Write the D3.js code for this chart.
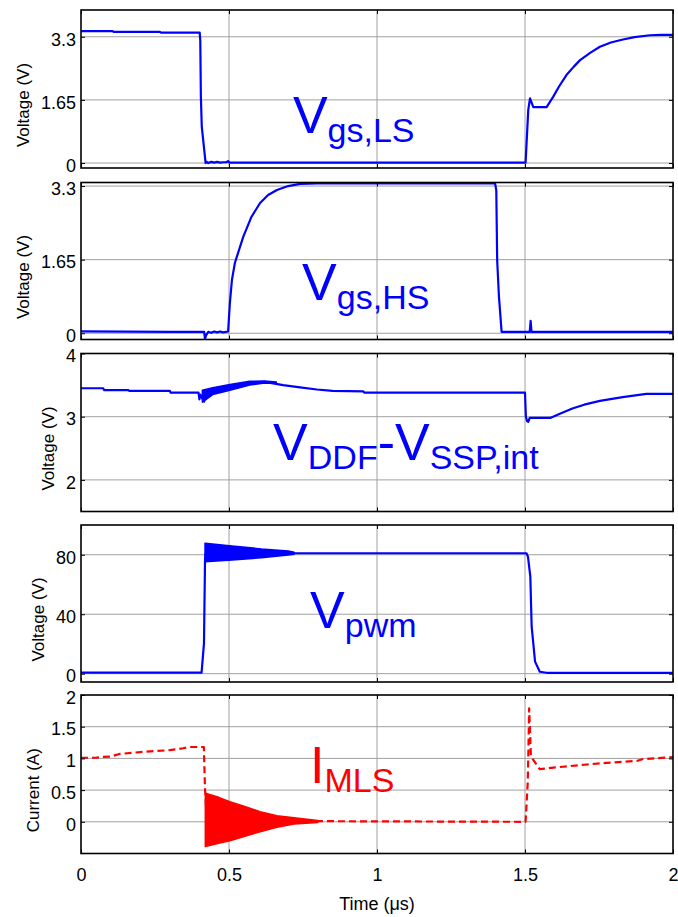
<!DOCTYPE html>
<html>
<head>
<meta charset="utf-8">
<script src="https://cdn.jsdelivr.net/npm/d3@7"></script>
<style>
  body { margin: 0; background: #fff; }
  text { font-family: Arial, "Liberation Sans", Helvetica, sans-serif; }
</style>
</head>
<body>
<svg id="chart" width="678" height="917"></svg>
<script>
// ---- Time axis (µs) ----
const timeDomain = [0, 2];
const timeTicks = [0, 0.5, 1, 1.5, 2];
const timeTickLabels = ["0", "0.5", "1", "1.5", "2"];

// ---- Low-side gate voltage Vgs,LS [t (µs), V] ----
const vgsLs = [
  [0, 3.45], [0.105, 3.45], [0.11, 3.43], [0.265, 3.43], [0.27, 3.41], [0.401, 3.41],
  [0.403, 3.2], [0.405, 1.73], [0.408, 0.95], [0.421, 0.0], [0.425, 0.03], [0.43, 0.0],
  [0.44, 0.03], [0.45, 0.01], [0.46, 0.03], [0.47, 0.01], [0.48, 0.02], [0.49, 0.02],
  [0.497, 0.05], [0.502, 0.01], [0.6, 0.01], [1.502, 0.01], [1.511, 1.39], [1.517, 1.69],
  [1.528, 1.46], [1.573, 1.46], [1.595, 1.73], [1.615, 2.0], [1.64, 2.3], [1.665, 2.52],
  [1.686, 2.69], [1.72, 2.88], [1.753, 3.04], [1.79, 3.15], [1.831, 3.23], [1.87, 3.29],
  [1.922, 3.34], [1.96, 3.35], [2.0, 3.35]
];
const vgsLsDomain = [-0.13, 4.0];
const vgsLsTicks = [0, 1.65, 3.3];
const vgsLsTickLabels = ["0", "1.65", "3.3"];

// ---- High-side gate voltage Vgs,HS ----
const vgsHs = [
  [0, 0.04], [0.3, 0.03], [0.416, 0.03], [0.419, -0.13], [0.423, -0.04], [0.43, 0.03],
  [0.44, 0.01], [0.45, 0.04], [0.46, 0.02], [0.47, 0.04], [0.48, 0.02], [0.497, 0.04],
  [0.503, 0.68], [0.51, 1.2], [0.52, 1.58], [0.548, 2.16], [0.575, 2.6], [0.605, 2.92],
  [0.632, 3.1], [0.662, 3.21], [0.7, 3.3], [0.74, 3.35], [0.8, 3.36], [1.399, 3.36],
  [1.403, 3.2], [1.406, 1.64], [1.412, 0.82], [1.421, 0.03], [1.516, 0.03], [1.519, 0.28],
  [1.522, 0.03], [2.0, 0.03]
];
const vgsHsDomain = [-0.14, 3.38];
const vgsHsTicks = [0, 1.65, 3.3];
const vgsHsTickLabels = ["0", "1.65", "3.3"];

// ---- Driver supply VDDF - VSSP,int ----
const vSupply = [
  [0, 3.45], [0.075, 3.45], [0.078, 3.42], [0.16, 3.42], [0.163, 3.41], [0.3, 3.41],
  [0.303, 3.38], [0.397, 3.38], [0.4, 3.275], [0.403, 3.35], [0.408, 3.3], [0.416, 3.24],
  [0.42, 3.33], [0.445, 3.41], [0.503, 3.465], [0.57, 3.53], [0.62, 3.55], [0.683, 3.5],
  [0.74, 3.465], [0.797, 3.43], [0.85, 3.41], [0.954, 3.4], [0.957, 3.38], [1.5, 3.38],
  [1.503, 3.0], [1.507, 2.93], [1.511, 2.92], [1.516, 2.98], [1.585, 2.98], [1.62, 3.05],
  [1.66, 3.13], [1.7, 3.19], [1.753, 3.25], [1.83, 3.31], [1.91, 3.36], [2.0, 3.36]
];
// ringing envelope while the switch node settles [t, high, low]
const vSupplyRinging = [
  [0.41, 3.42, 3.23], [0.445, 3.46, 3.35], [0.503, 3.51, 3.42], [0.57, 3.56, 3.5],
  [0.62, 3.565, 3.535], [0.66, 3.55, 3.53]
];
const vSupplyDomain = [1.5, 4];
const vSupplyTicks = [2, 3, 4];
const vSupplyTickLabels = ["2", "3", "4"];

// ---- Switch node voltage Vpwm ----
const vPwm = [
  [0, 0.65], [0.4074, 0.65], [0.4155, 20.6], [0.419, 76.5], [0.421, 81], [0.72, 81],
  [1.505, 81], [1.51, 78.7], [1.518, 65.2], [1.5225, 31.6], [1.534, 8.1], [1.55, 1.3],
  [1.573, 0.6], [2.0, 0.6]
];
const vPwmRinging = [
  [0.419, 87.7, 75.3], [0.51, 85.9, 76.5], [0.61, 83.9, 78.0], [0.7, 82.5, 79.8],
  [0.72, 81.6, 80.4]
];
const vPwmDomain = [-5.6, 100];
const vPwmTicks = [0, 40, 80];
const vPwmTickLabels = ["0", "40", "80"];

// ---- Low-side switch current IMLS (A) ----
const iMls = [
  [0, 1.01], [0.05, 1.01], [0.065, 1.02], [0.1, 1.03], [0.13, 1.07], [0.2, 1.1],
  [0.3, 1.13], [0.345, 1.16], [0.368, 1.18], [0.415, 1.18], [0.419, 0.5], [0.421, 0.4],
  [0.424, 0.0], [0.8, 0.01], [1.502, 0.0], [1.509, 0.6], [1.511, 1.0], [1.514, 1.79],
  [1.52, 1.03], [1.55, 0.83], [1.607, 0.86], [1.7, 0.9], [1.776, 0.93], [1.877, 0.96],
  [1.9, 0.99], [2.0, 1.02]
];
const iMlsRinging = [
  [0.42, 0.45, -0.39], [0.465, 0.386, -0.34], [0.503, 0.317, -0.3], [0.548, 0.25, -0.235],
  [0.605, 0.16, -0.156], [0.662, 0.096, -0.087], [0.72, 0.065, -0.035], [0.8, 0.02, -0.01]
];
const iMlsDomain = [-0.5, 2];
const iMlsTicks = [0, 0.5, 1, 1.5, 2];
const iMlsTickLabels = ["0", "0.5", "1", "1.5", "2"];

// ---- Panel definitions ----
const BLUE = "#0000ff", RED = "#ff0000";
const panels = [
  { data: vgsLs, band: null, domain: vgsLsDomain, ticks: vgsLsTicks, labels: vgsLsTickLabels,
    yLabel: "Voltage (V)", color: BLUE, dashed: false, top: 10, height: 158,
    title: [["V", 0], ["gs,LS", 1]], titleAt: [0.716, 0.78] },
  { data: vgsHs, band: null, domain: vgsHsDomain, ticks: vgsHsTicks, labels: vgsHsTickLabels,
    yLabel: "Voltage (V)", color: BLUE, dashed: false, top: 182.5, height: 157,
    title: [["V", 0], ["gs,HS", 1]], titleAt: [0.747, 0.745] },
  { data: vSupply, band: vSupplyRinging, domain: vSupplyDomain, ticks: vSupplyTicks, labels: vSupplyTickLabels,
    yLabel: "Voltage (V)", color: BLUE, dashed: false, top: 353.5, height: 158,
    title: [["V", 0], ["DDF", 1], ["-V", 0], ["SSP,int", 1]], titleAt: [0.649, 2.31] },
  { data: vPwm, band: vPwmRinging, domain: vPwmDomain, ticks: vPwmTicks, labels: vPwmTickLabels,
    yLabel: "Voltage (V)", color: BLUE, dashed: false, top: 525, height: 157,
    title: [["V", 0], ["pwm", 1]], titleAt: [0.774, 30.7] },
  { data: iMls, band: iMlsRinging, domain: iMlsDomain, ticks: iMlsTicks, labels: iMlsTickLabels,
    yLabel: "Current (A)", color: RED, dashed: true, top: 695, height: 158.5,
    title: [["I", 0], ["MLS", 1]], titleAt: [0.774, 0.61] }
];

const svg = d3.select("#chart");
const left = 81, right = 673;
const x = d3.scaleLinear().domain(timeDomain).range([left, right]);
const defs = svg.append("defs");

panels.forEach((p, idx) => {
  const bottom = p.top + p.height;
  const y = d3.scaleLinear().domain(p.domain).range([bottom, p.top]);
  const g = svg.append("g");
  const clipId = "clip" + idx;
  defs.append("clipPath").attr("id", clipId)
    .append("rect").attr("x", left).attr("y", p.top).attr("width", right - left).attr("height", p.height);

  // grid
  const grid = g.append("g").attr("stroke", "#a0a0a0").attr("stroke-width", 1);
  grid.selectAll("line.h").data(p.ticks.filter(v => v > p.domain[0] && v < p.domain[1]))
    .join("line").attr("class", "h")
    .attr("x1", left).attr("x2", right).attr("y1", d => y(d)).attr("y2", d => y(d));
  grid.selectAll("line.v").data(timeTicks.filter(t => t > timeDomain[0] && t < timeDomain[1]))
    .join("line").attr("class", "v")
    .attr("y1", p.top).attr("y2", bottom).attr("x1", d => x(d)).attr("x2", d => x(d));

  // ringing band
  const plot = g.append("g").attr("clip-path", `url(#${clipId})`);
  if (p.band) {
    const area = d3.area().x(d => x(d[0])).y0(d => y(d[2])).y1(d => y(d[1]));
    plot.append("path").datum(p.band).attr("d", area).attr("fill", p.color)
      .attr("stroke", p.color).attr("stroke-width", 1.5).attr("stroke-linejoin", "round");
  }
  // waveform
  const line = d3.line().x(d => x(d[0])).y(d => y(d[1]));
  plot.append("path").datum(p.data).attr("d", line)
    .attr("fill", "none").attr("stroke", p.color).attr("stroke-width", 2.2)
    .attr("stroke-linejoin", "round")
    .attr("stroke-dasharray", p.dashed ? "7,4" : null);

  // axes with inward ticks
  const yAxis = d3.axisLeft(y).tickValues(p.ticks)
    .tickFormat((d, i) => p.labels[i]).tickSize(-4).tickPadding(5);
  const ay = g.append("g").attr("transform", `translate(${left},0)`).call(yAxis);
  ay.select(".domain").remove();
  ay.selectAll("text").attr("font-size", 18).attr("dy", "0.46em").attr("fill", "#000")
    .style("font-family", "Arial, 'Liberation Sans', sans-serif");
  ay.selectAll("line").attr("stroke", "#000");

  const yAxisR = d3.axisRight(y).tickValues(p.ticks).tickSize(-4).tickFormat("");
  const ayr = g.append("g").attr("transform", `translate(${right},0)`).call(yAxisR);
  ayr.select(".domain").remove();
  ayr.selectAll("line").attr("stroke", "#000");

  const xTop = d3.axisTop(x).tickValues(timeTicks).tickSize(-4).tickFormat("");
  const axt = g.append("g").attr("transform", `translate(0,${p.top})`).call(xTop);
  axt.select(".domain").remove();
  axt.selectAll("line").attr("stroke", "#000");

  const last = idx === panels.length - 1;
  const xBot = d3.axisBottom(x).tickValues(timeTicks).tickSize(-4).tickPadding(15)
    .tickFormat((d, i) => last ? timeTickLabels[i] : "");
  const axb = g.append("g").attr("transform", `translate(0,${bottom})`).call(xBot);
  axb.select(".domain").remove();
  axb.selectAll("line").attr("stroke", "#000");
  axb.selectAll("text").attr("font-size", 18).attr("fill", "#000")
    .style("font-family", "Arial, 'Liberation Sans', sans-serif");

  // frame
  g.append("rect").attr("x", left).attr("y", p.top).attr("width", right - left).attr("height", p.height)
    .attr("fill", "none").attr("stroke", "#000").attr("stroke-width", 1.6);

  // y-axis label, placed clear of the widest tick label
  let maxW = 0;
  ay.selectAll("text").each(function () { maxW = Math.max(maxW, this.getComputedTextLength()); });
  const lx = left - 5 - maxW - 12;
  const ly = p.top + p.height / 2 + 16;
  g.append("text").attr("transform", `translate(${lx},${ly}) rotate(-90)`)
    .attr("text-anchor", "middle").attr("font-size", 17).attr("fill", "#000").text(p.yLabel);

  // signal name
  const t = g.append("text").attr("x", x(p.titleAt[0])).attr("y", y(p.titleAt[1]))
    .attr("fill", p.color);
  let sub = 0;
  p.title.forEach(([s, isSub]) => {
    const dy = isSub ? (sub ? 0 : 9) : (sub ? -9 : 0);
    sub = isSub;
    t.append("tspan").attr("font-size", isSub ? 34 : 52).attr("dy", dy).text(s);
  });

  if (last) {
    g.append("text").attr("x", (left + right) / 2).attr("y", 910).attr("text-anchor", "middle")
      .attr("font-size", 18).attr("fill", "#000").text("Time (\u03bcs)");
  }
});
</script>
</body>
</html>
